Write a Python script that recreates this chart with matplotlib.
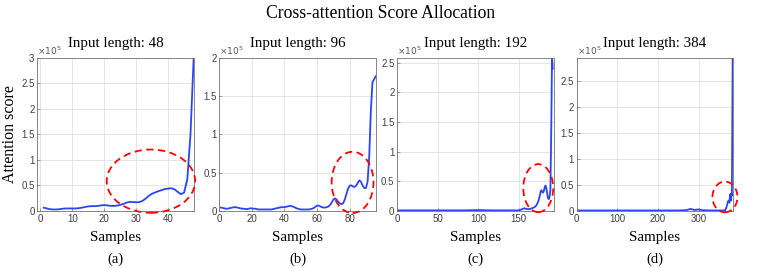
import numpy as np
import matplotlib
matplotlib.use("Agg")
import matplotlib.pyplot as plt
from matplotlib.patches import Ellipse
from matplotlib.ticker import FuncFormatter, MultipleLocator

# ==========================================================
# DATA (scores in units of 1e5)
# ==========================================================

SCALE = 1e5

x48 = list(range(1, 49))
y48 = [0.065, 0.05, 0.035, 0.03, 0.03, 0.035, 0.045, 0.05, 0.05, 0.05,
       0.05, 0.055, 0.065, 0.08, 0.09, 0.095, 0.095, 0.10, 0.11, 0.115,
       0.11, 0.10, 0.10, 0.105, 0.12, 0.14, 0.165, 0.18, 0.175, 0.17,
       0.175, 0.20, 0.245, 0.30, 0.34, 0.365, 0.39, 0.41, 0.43, 0.44,
       0.445, 0.425, 0.375, 0.33, 0.36, 0.62, 1.50, 3.00]

x96 = list(range(1, 97))
y96 = [0.045, 0.04, 0.035, 0.03, 0.03, 0.035, 0.04, 0.045, 0.05, 0.05,
       0.045, 0.04, 0.035, 0.03, 0.03, 0.025, 0.025, 0.03, 0.035, 0.035,
       0.03, 0.03, 0.025, 0.02, 0.02, 0.02, 0.02, 0.02, 0.02, 0.02,
       0.02, 0.02, 0.025, 0.03, 0.035, 0.04, 0.045, 0.05, 0.05, 0.05,
       0.055, 0.06, 0.065, 0.065, 0.06, 0.05, 0.04, 0.03, 0.025, 0.02,
       0.02, 0.02, 0.02, 0.02, 0.02, 0.025, 0.03, 0.04, 0.055, 0.07,
       0.07, 0.06, 0.05, 0.045, 0.045, 0.05, 0.06, 0.08, 0.11, 0.15,
       0.165, 0.15, 0.12, 0.10, 0.09, 0.10, 0.15, 0.22, 0.29, 0.33,
       0.335, 0.32, 0.315, 0.33, 0.37, 0.40, 0.38, 0.33, 0.30, 0.30,
       0.38, 0.70, 1.30, 1.68, 1.72, 1.76]

x192 = [1, 20, 40, 60, 80, 100, 120, 140, 150, 154, 157, 160, 163, 166,
        168, 170, 172, 174, 176, 177, 178, 179, 180, 181, 182, 183, 184,
        185, 186, 187, 188, 189, 190, 191, 192]
y192 = [0.01, 0.01, 0.01, 0.01, 0.01, 0.015, 0.01, 0.01, 0.01, 0.03,
        0.045, 0.035, 0.03, 0.045, 0.055, 0.07, 0.10, 0.16, 0.26, 0.33,
        0.35, 0.32, 0.31, 0.34, 0.40, 0.43, 0.38, 0.30, 0.22, 0.20,
        0.24, 0.35, 1.30, 2.58, 2.40]

x384 = [1, 50, 100, 150, 200, 250, 270, 280, 290, 300, 310, 330, 350,
        365, 368, 370, 372, 374, 376, 377, 378, 379, 380, 381, 382, 383,
        384]
y384 = [0.01, 0.01, 0.01, 0.01, 0.01, 0.01, 0.015, 0.04, 0.02, 0.03,
        0.015, 0.01, 0.01, 0.01, 0.05, 0.11, 0.17, 0.20, 0.16, 0.25,
        0.32, 0.26, 0.20, 0.34, 0.30, 1.50, 2.94]

lengths = [48, 96, 192, 384]
xs = [x48, x96, x192, x384]
ys = [y48, y96, y192, y384]
panel_tags = ["(a)", "(b)", "(c)", "(d)"]

xlims = [(-1, 48), (0, 96), (0, 193), (0, 385)]
ylims = [3.0, 2.0, 2.58, 2.94]
xsteps = [10, 20, 50, 100]

# highlighted regions: (center x, center y, width, height) in data units
regions = [(34.6, 0.585, 27.7, 1.24),
           (81.8, 0.374, 25.7, 0.80),
           (174.0, 0.385, 36.9, 0.81),
           (365.0, 0.27, 61.5, 0.59)]

# ==========================================================
# PLOT
# ==========================================================

serif = ["Liberation Serif", "DejaVu Serif"]
sans = ["Liberation Sans", "DejaVu Sans"]

fig = plt.figure(figsize=(7.61, 2.68), dpi=100)

lefts = [0.049, 0.2882, 0.522, 0.7578]
width = 0.2055
bottom = 0.2127
height = 0.571

fmt = FuncFormatter(lambda v, p: "%g" % (v / SCALE))

for i in range(4):
    ax = fig.add_axes([lefts[i], bottom, width, height])

    ax.plot(xs[i], np.array(ys[i]) * SCALE, color="#2a45f5", lw=1.3)

    cx, cy, w, h = regions[i]
    ax.add_patch(Ellipse((cx, cy * SCALE), w, h * SCALE, fill=False,
                         edgecolor="red", ls=(0, (4, 2.5)), lw=1.3,
                         clip_on=False, zorder=5))

    ax.set_xlim(*xlims[i])
    ax.set_ylim(0, ylims[i] * SCALE)
    ax.xaxis.set_major_locator(MultipleLocator(xsteps[i]))
    ax.yaxis.set_major_locator(MultipleLocator(0.5 * SCALE))
    ax.yaxis.set_major_formatter(fmt)

    ax.grid(True, color="0.88", lw=0.6)
    ax.set_axisbelow(True)
    for s in ax.spines.values():
        s.set_color("0.45")
        s.set_linewidth(0.6)
    ax.tick_params(direction="in", length=2, width=0.5, colors="0.45",
                   labelcolor="0.25", labelsize=7, pad=2)
    for lab in ax.get_xticklabels() + ax.get_yticklabels():
        lab.set_family(sans)

    ax.text(0.0, 1.005, r"$\times10^5$", transform=ax.transAxes,
            fontsize=6.5, color="0.35", ha="left", va="bottom",
            family=sans)

    ax.set_title("Input length: %d" % lengths[i], family=serif,
                 fontsize=10.8, pad=8)

    xc = lefts[i] + width / 2
    fig.text(xc, 1 - 238 / 268, "Samples", ha="center", va="center",
             family=serif, fontsize=10.8)
    fig.text(xc, 1 - 259 / 268, panel_tags[i], ha="center", va="center",
             family=serif, fontsize=10.5)

    if i == 0:
        ax.set_ylabel("Attention score", family=serif, fontsize=11.5,
                      labelpad=2)

fig.text(0.5, 1 - 13 / 268, "Cross-attention Score Allocation",
         ha="center", va="center", family=serif, fontsize=12.7)

fig.savefig("out.png", dpi=100)
